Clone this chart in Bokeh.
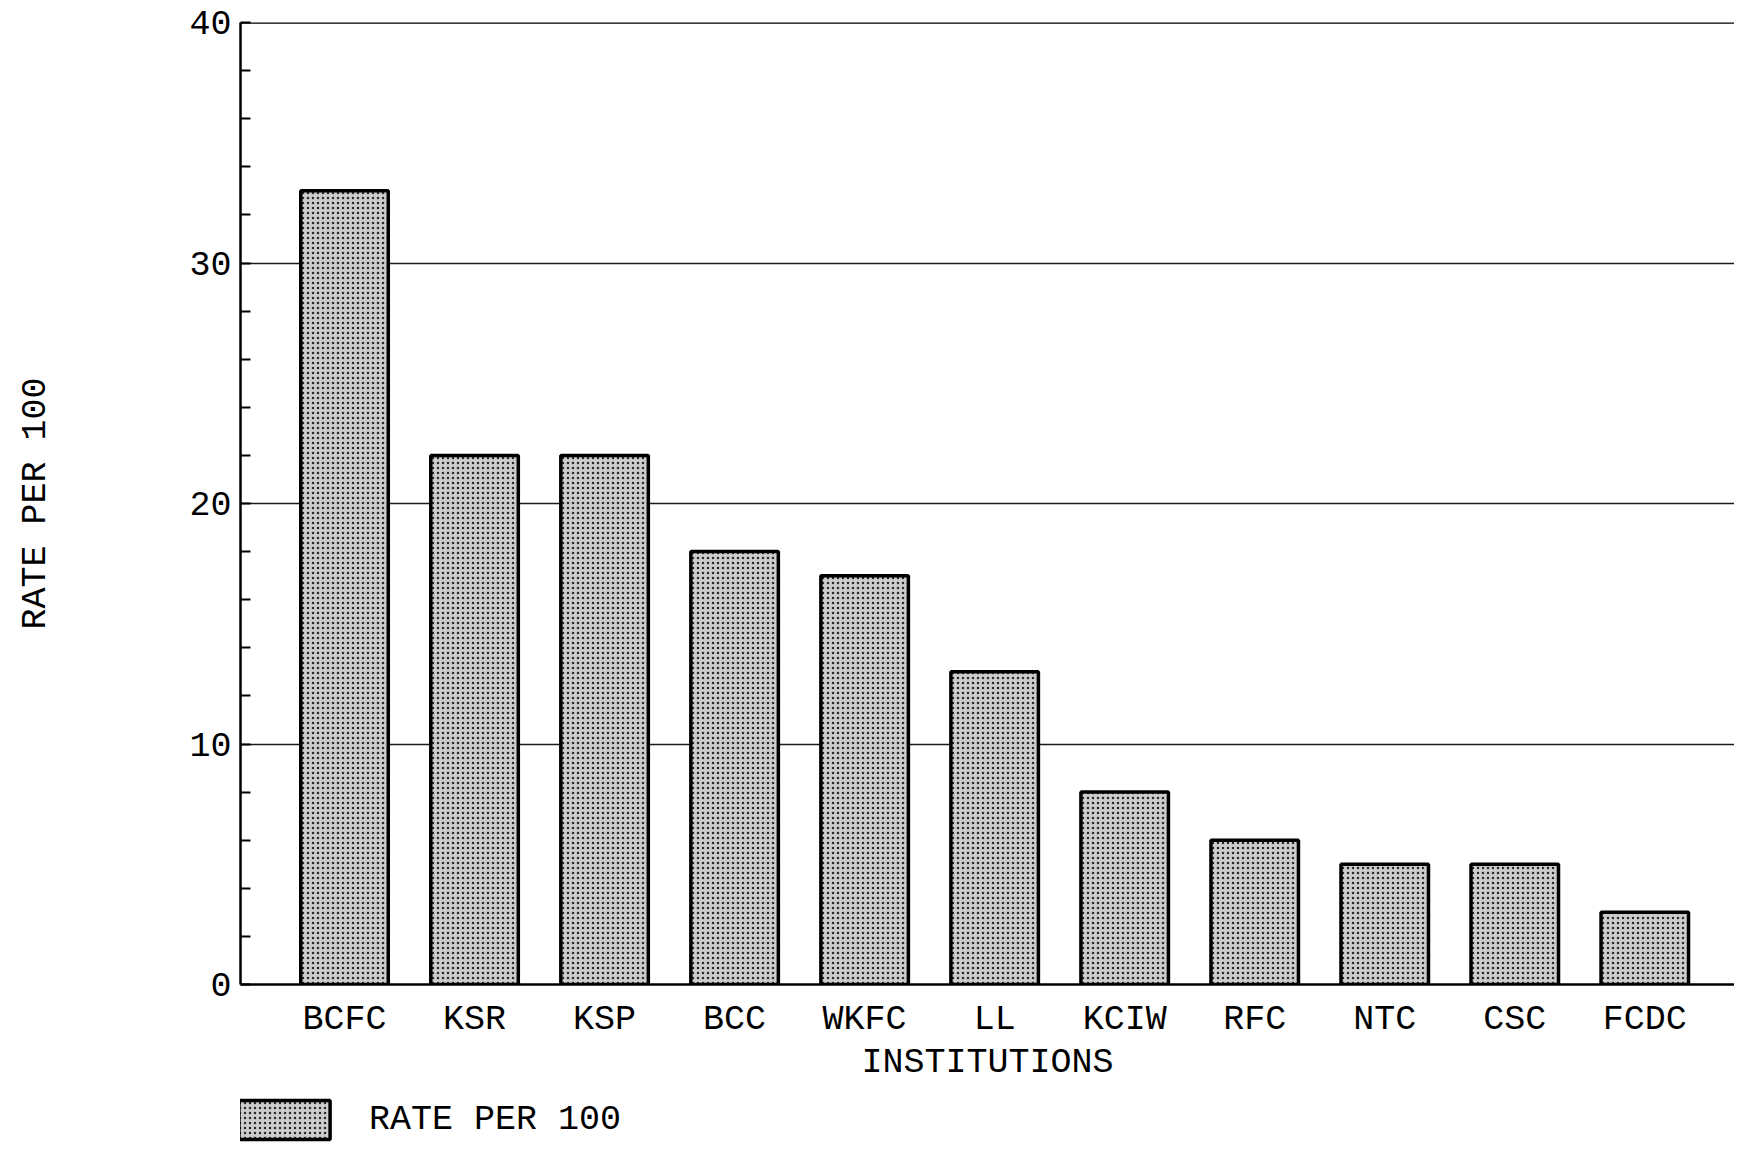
from bokeh.plotting import figure
from bokeh.layouts import column
from bokeh.models import Range1d, FixedTicker, Legend, LegendItem, Span
from bokeh.embed import file_html
from bokeh.resources import INLINE

institutions = ["BCFC", "KSR", "KSP", "BCC", "WKFC", "LL", "KCIW", "RFC", "NTC", "CSC", "FCDC"]
rate_per_100 = [33, 22, 22, 18, 17, 13, 8, 6, 5, 5, 3]
y_ticks = [0, 10, 20, 30, 40]
series_name = "RATE PER 100"

FONT = "Liberation Mono"
FS = "35px"
BAR_STYLE = dict(fill_color="#cccccc", line_color="black", line_width=3.5,
                 hatch_pattern="dot", hatch_color="black", hatch_scale=5, hatch_alpha=0.8)

xs = list(range(len(institutions)))

p = figure(width=1734, height=1088, output_backend="svg", toolbar_location=None,
           x_range=Range1d(-0.8, 10.69), y_range=Range1d(0, 40),
           min_border_left=240, min_border_right=0, min_border_top=22, min_border_bottom=104,
           outline_line_color=None, background_fill_color="white", border_fill_color="white")

r = p.vbar(x=xs, top=rate_per_100, width=0.673, **BAR_STYLE)

# grid
p.xgrid.visible = False
p.ygrid.ticker = FixedTicker(ticks=y_ticks[1:-1])
p.ygrid.grid_line_color = "#1a1a1a"
p.ygrid.grid_line_width = 1.6
p.add_layout(Span(location=y_ticks[-1], dimension="width", line_color="black", line_width=2.5))

# y axis
p.yaxis.ticker = FixedTicker(ticks=y_ticks, minor_ticks=list(range(0, 41, 2)))
p.yaxis.major_tick_in = 0
p.yaxis.major_tick_out = 0
p.yaxis.minor_tick_in = 10
p.yaxis.minor_tick_out = 0
p.yaxis.minor_tick_line_width = 2
p.yaxis.axis_line_width = 2.5
p.yaxis.major_label_standoff = 9
p.yaxis.major_label_text_font = FONT
p.yaxis.major_label_text_font_size = FS
p.yaxis.major_label_text_color = "black"
p.yaxis.axis_label = "RATE PER 100"
p.yaxis.axis_label_text_font = FONT
p.yaxis.axis_label_text_font_size = FS
p.yaxis.axis_label_text_font_style = "normal"
p.yaxis.axis_label_text_color = "black"
p.yaxis.axis_label_standoff = 130

# x axis
p.xaxis.ticker = FixedTicker(ticks=xs)
p.xaxis.major_label_overrides = {i: name for i, name in enumerate(institutions)}
p.xaxis.major_tick_in = 0
p.xaxis.major_tick_out = 0
p.xaxis.minor_tick_line_color = None
p.xaxis.axis_line_width = 2.5
p.xaxis.major_label_standoff = 15
p.xaxis.major_label_text_font = FONT
p.xaxis.major_label_text_font_size = FS
p.xaxis.major_label_text_color = "black"
p.xaxis.axis_label = "INSTITUTIONS"
p.xaxis.axis_label_text_font = FONT
p.xaxis.axis_label_text_font_size = FS
p.xaxis.axis_label_text_font_style = "normal"
p.xaxis.axis_label_text_color = "black"
p.xaxis.axis_label_standoff = 0

# legend strip below the chart (frame aligned with the chart's frame)
leg_fig = figure(width=1734, height=60, output_backend="svg", toolbar_location=None,
                 x_range=Range1d(0, 1), y_range=Range1d(0, 1),
                 min_border_left=0, min_border_right=0, min_border_top=0, min_border_bottom=0,
                 outline_line_color=None, background_fill_color="white", border_fill_color="white")
leg_fig.axis.visible = False
leg_fig.grid.visible = False
leg_r = leg_fig.vbar(x=xs, top=rate_per_100, width=0.673, visible=False, **BAR_STYLE)
legend = Legend(items=[LegendItem(label=series_name, renderers=[leg_r])],
                location=(-13, 4), orientation="horizontal",
                glyph_width=114, glyph_height=49, label_standoff=28,
                label_text_font=FONT, label_text_font_size=FS, label_text_color="black",
                label_text_baseline="top",
                border_line_color=None, background_fill_color=None, background_fill_alpha=0,
                inactive_fill_alpha=0, click_policy="none",
                margin=0, padding=0, spacing=0, label_height=49)
leg_fig.add_layout(legend, "center")

layout = column(p, leg_fig, spacing=0)
open("out.html", "w").write(file_html(layout, INLINE))
